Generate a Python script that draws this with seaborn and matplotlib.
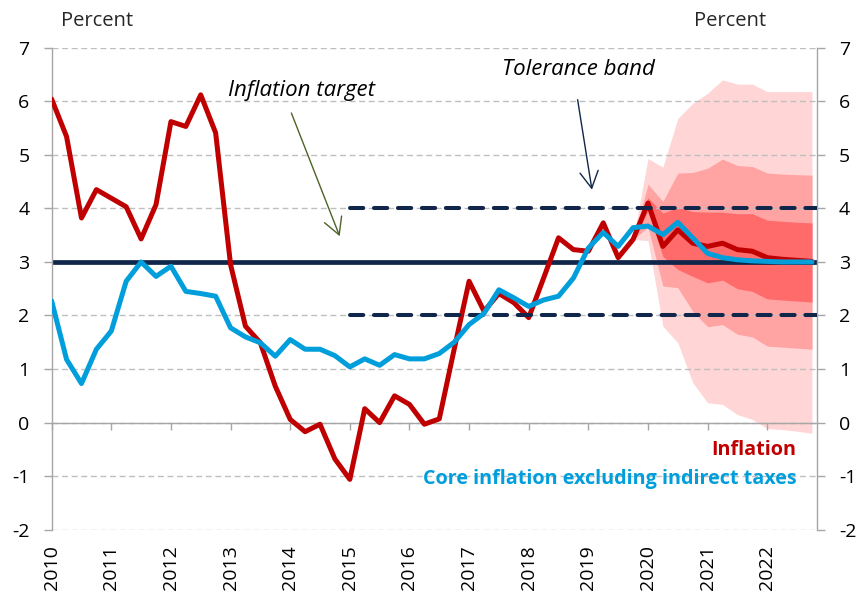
import numpy as np
import pandas as pd
import matplotlib
matplotlib.use("Agg")
import matplotlib.pyplot as plt
import seaborn as sns

# ---------------- data ----------------
quarters = [f"{y}Q{q}" for y in range(2010, 2023) for q in range(1, 5)]

inflation = [6.04, 5.34, 3.82, 4.35, 4.19, 4.03, 3.43, 4.07,
             5.62, 5.53, 6.12, 5.41, 2.95, 1.80, 1.49, 0.68,
             0.06, -0.17, -0.03, -0.68, -1.06, 0.26, 0.00, 0.50,
             0.34, -0.03, 0.07, 1.37, 2.64, 2.08, 2.41, 2.24,
             1.96, 2.70, 3.45, 3.23, 3.20, 3.73, 3.08, 3.42,
             4.10, 3.29, 3.60, 3.35, 3.29, 3.35, 3.23, 3.20,
             3.08, 3.05, 3.03, 3.01]

core = [2.27, 1.18, 0.73, 1.37, 1.71, 2.64, 3.00, 2.73,
        2.92, 2.45, 2.41, 2.36, 1.77, 1.60, 1.49, 1.24,
        1.55, 1.37, 1.37, 1.25, 1.04, 1.19, 1.07, 1.27,
        1.19, 1.19, 1.29, 1.50, 1.83, 2.04, 2.48, 2.33,
        2.17, 2.29, 2.36, 2.70, 3.26, 3.55, 3.29, 3.64,
        3.67, 3.51, 3.74, 3.45, 3.16, 3.08, 3.04, 3.02,
        3.01, 3.00, 3.00, 3.00]

fan_quarters = quarters[39:]   # 2019Q4 .. 2022Q4
outer_hi = [3.42, 4.93, 4.77, 5.68, 5.96, 6.15, 6.40, 6.32, 6.32, 6.18, 6.18, 6.18, 6.18]
mid_hi   = [3.42, 4.45, 4.13, 4.66, 4.67, 4.75, 4.92, 4.80, 4.78, 4.66, 4.64, 4.63, 4.62]
dark_hi  = [3.42, 4.20, 3.91, 4.02, 3.94, 3.93, 3.93, 3.90, 3.90, 3.78, 3.76, 3.74, 3.73]
dark_lo  = [3.42, 3.95, 3.10, 2.86, 2.73, 2.61, 2.66, 2.50, 2.45, 2.31, 2.29, 2.27, 2.25]
mid_lo   = [3.42, 3.65, 2.55, 2.52, 2.08, 1.79, 1.83, 1.65, 1.60, 1.43, 1.41, 1.39, 1.37]
outer_lo = [3.42, 3.40, 1.80, 1.49, 0.75, 0.37, 0.34, 0.15, 0.06, -0.11, -0.13, -0.16, -0.20]

target = 3.0
tolerance = [2.0, 4.0]
tolerance_start = 2015
y_ticks = list(range(-2, 8))
x_ticks = list(range(2010, 2023))
x_max = 2022.83

def qpos(q):
    return int(q[:4]) + (int(q[-1]) - 1) / 4

# ---------------- style ----------------
sns.set_theme(style="white")
plt.rcParams['font.family'] = ['Open Sans', 'DejaVu Sans']
plt.rcParams['axes.unicode_minus'] = False

RED = '#C00000'
BLUE = '#009EDB'
NAVY = '#10264A'
GRID = '#BFBFBF'
AXC = '#A6A6A6'
FS = 14

fig = plt.figure(figsize=(8.61, 5.92), dpi=100)
ax = fig.add_axes([0.060, 0.1052, 0.8886, 0.8142])

df = pd.DataFrame({
    'x': [qpos(q) for q in quarters] * 2,
    'value': inflation + core,
    'series': ['Inflation'] * len(quarters) + ['Core'] * len(quarters),
})
fx = [qpos(q) for q in fan_quarters]

# fan chart
ax.fill_between(fx, outer_lo, outer_hi, color='#FFD5D5', lw=0, zorder=0.2)
ax.fill_between(fx, mid_lo, mid_hi, color='#FFA3A3', lw=0, zorder=0.21)
ax.fill_between(fx, dark_lo, dark_hi, color='#FF6B6B', lw=0, zorder=0.22)

# target and tolerance band
ax.axhline(target, color=NAVY, lw=3.4, zorder=2)
for t in tolerance:
    ax.hlines(t, tolerance_start, x_max, color=NAVY, lw=2.9,
              linestyles=(0, (3.3, 2.65)), zorder=4, capstyle='round')

sns.lineplot(data=df[df.series == 'Inflation'], x='x', y='value', color=RED,
             lw=3.6, ax=ax, zorder=3, legend=False, sort=False, estimator=None)
sns.lineplot(data=df[df.series == 'Core'], x='x', y='value', color=BLUE,
             lw=3.6, ax=ax, zorder=5, legend=False, sort=False, estimator=None)

# axes
ax.set_xlim(2010, x_max)
ax.set_ylim(-2, 7)
ax.set_xlabel('')
ax.set_ylabel('')
ax.set_yticks(y_ticks)
ax.set_xticks(x_ticks)
ax.set_axisbelow(True)
ax.yaxis.grid(True, color=GRID, lw=1.0, linestyle=(0, (4.3, 2.6)))
ax.xaxis.grid(False)
ax.spines['top'].set_visible(False)
for s in ['left', 'right', 'bottom']:
    ax.spines[s].set_color(AXC)
    ax.spines[s].set_linewidth(1.0)
ax.spines['bottom'].set_position(('data', 0))
ax.tick_params(axis='y', left=True, right=True, labelleft=True, labelright=True,
               direction='out', length=6, width=1, color=AXC, pad=10,
               labelsize=FS, labelcolor='black')
ax.tick_params(axis='x', bottom=True, direction='out', length=5, width=1,
               color=AXC, labelbottom=False)

sec = ax.secondary_xaxis('bottom')
sec.set_xticks(x_ticks)
sec.tick_params(length=0, pad=11, labelsize=FS, labelrotation=90, labelcolor='black')
sec.spines['bottom'].set_visible(False)

# annotations
ax.text(2014.19, 6.21, 'Inflation target', style='italic', fontsize=16,
        ha='center', va='center', color='black')
ax.annotate('', xy=(2014.83, 3.48), xytext=(2014.02, 5.78),
            arrowprops=dict(arrowstyle='->,head_length=0.4,head_width=0.22',
                            color='#4F6228', lw=1.0, mutation_scale=30,
                            shrinkA=0, shrinkB=0))
ax.text(2018.83, 6.6, 'Tolerance band', style='italic', fontsize=16,
        ha='center', va='center', color='black')
ax.annotate('', xy=(2019.06, 4.35), xytext=(2018.82, 6.03),
            arrowprops=dict(arrowstyle='->,head_length=0.4,head_width=0.22',
                            color=NAVY, lw=1.0, mutation_scale=30,
                            shrinkA=0, shrinkB=0))

ax.text(2022.49, -0.52, 'Inflation', color=RED, fontweight='bold',
        fontsize=14.2, ha='right', va='center')
ax.text(2022.49, -1.06, 'Core inflation excluding indirect taxes', color=BLUE,
        fontweight='bold', fontsize=14.2, ha='right', va='center')

fig.text(97 / 861, 1 - 21 / 592, 'Percent', fontsize=14.5, ha='center', va='center')
fig.text(730 / 861, 1 - 21 / 592, 'Percent', fontsize=14.5, ha='center', va='center')

fig.savefig('out.png', dpi=100)
